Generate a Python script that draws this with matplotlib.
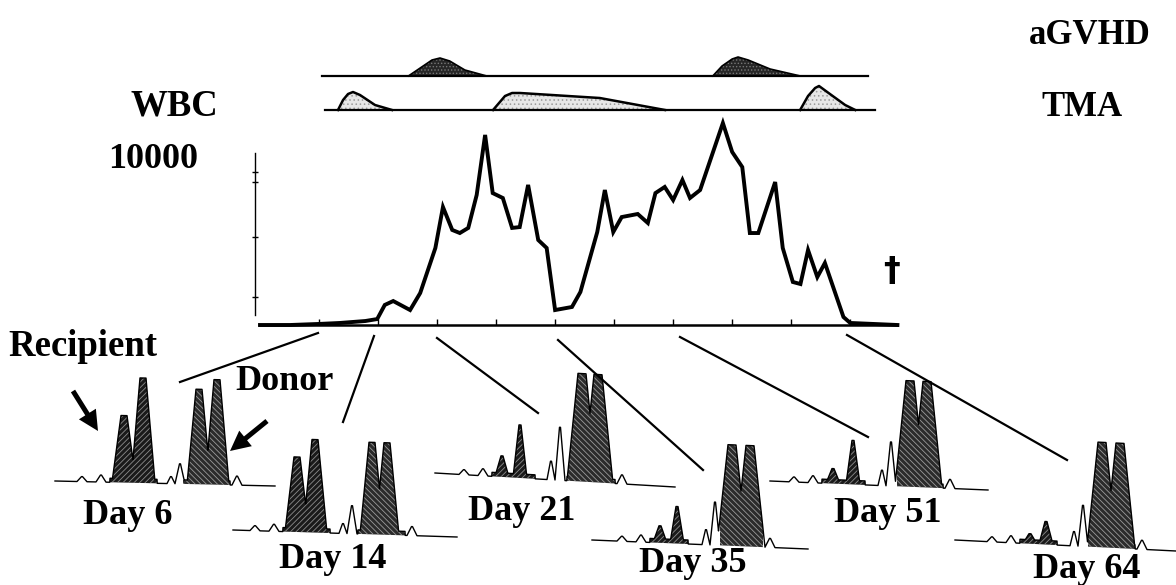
import numpy as np
import matplotlib
matplotlib.use('Agg')
import matplotlib.pyplot as plt
from matplotlib.patches import FancyArrow

plt.rcParams['font.family'] = ['Liberation Serif', 'DejaVu Serif']
plt.rcParams['hatch.linewidth'] = 0.6

# ---------------- data ----------------
wbc_day = [0, 3.6, 6.9, 9.5, 12.5, 13.9, 14.8, 15.8, 17.8, 19.0, 20.8, 21.7, 22.8, 23.7,
           24.7, 25.7, 26.7, 27.6, 28.8, 29.9, 30.8, 31.8, 33.0, 34.0, 35.0, 37.0, 38.0,
           40.0, 40.9, 41.9, 42.9, 44.8, 46.0, 46.9, 48.0, 49.0, 50.1, 51.0, 52.2, 54.9,
           56.0, 57.2, 58.1, 59.1, 61.1, 62.0, 63.2, 64.1, 65.0, 66.1, 67.0, 69.2, 70.0, 75.6]
wbc_val = [0, 0, 60, 120, 235, 350, 1180, 1410, 880, 1880, 4530, 6940, 5590, 5410,
           5710, 7650, 11180, 7760, 7470, 5710, 5760, 8240, 5000, 4530, 880, 1060, 1940,
           5470, 7940, 5470, 6350, 6530, 6000, 7760, 8120, 7350, 8530, 7470, 7940, 11880,
           10180, 9290, 5410, 5410, 8410, 4530, 2530, 2410, 4410, 2820, 3650, 470, 120, 0]
x_ticks = [7, 14, 21, 28, 35, 42, 49, 56, 63, 70]
y_minor_ticks = [1650, 5180, 8410, 9000]

# clinical episodes (day, relative height)
agvhd_span = [7.35, 72.1]
agvhd1_day = [17.6, 19.0, 20.4, 21.35, 22.5, 24.3, 26.9]
agvhd1_h = [0, 8, 16, 18, 15, 6, 0]
agvhd2_day = [53.7, 54.8, 56.0, 56.7, 57.9, 60.5, 64.1]
agvhd2_h = [0, 10, 17, 19, 16, 7, 0]
tma_span = [7.7, 72.95]
tma1_day = [9.25, 9.85, 10.44, 11.03, 11.86, 13.64, 15.66]
tma1_h = [0, 10, 16, 18, 15, 5, 0]
tma2_day = [27.64, 29.06, 29.9, 30.84, 40.3, 48.04]
tma2_h = [0, 14, 17, 17, 12, 0]
tma3_day = [64.06, 65.0, 65.84, 66.3, 67.6, 69.4, 70.6]
tma3_h = [0, 14, 22, 24, 16, 5, 0]

# chimerism electropherograms
day_labels = ['Day 6', 'Day 14', 'Day 21', 'Day 35', 'Day 51', 'Day 64']
recipient_peaks = [[67, 105], [75, 93], [21, 53], [17, 37], [15, 44], [10, 23]]
donor_peaks = [[95, 105], [92, 92], [108, 108], [101, 101], [106, 106], [105, 105]]
stutter_peak = [20, 28, 53, 43, 44, 41]

# ---------------- layout ----------------
W, H = 1176, 585
fig = plt.figure(figsize=(W / 100, H / 100), dpi=100)
fig.patch.set_facecolor('white')

ax0 = fig.add_axes([0, 0, 1, 1])
ax0.set_xlim(0, W)
ax0.set_ylim(H, 0)
ax0.axis('off')

# WBC axes
ax = fig.add_axes([255 / W, 1 - 325 / H, 650 / W, 175 / H])
ax.set_xlim(-0.593, 76.5)
ax.set_ylim(0, 10294)
ax.patch.set_alpha(0)
ax.plot(wbc_day, wbc_val, color='black', lw=2.8, clip_on=False, solid_joinstyle='miter')
for s in ['top', 'right']:
    ax.spines[s].set_visible(False)
ax.spines['left'].set_bounds(590, 10100)
ax.spines['bottom'].set_bounds(0, 75.6)
ax.spines['left'].set_linewidth(1.0)
ax.spines['bottom'].set_linewidth(1.8)
ax.set_xticks(x_ticks)
ax.set_xticklabels([])
ax.set_yticks(y_minor_ticks)
ax.set_yticklabels([])
ax.tick_params(axis='x', direction='in', length=4, width=1)
ax.tick_params(axis='y', direction='inout', length=4, width=1)

# episode band axes
axb = fig.add_axes([255 / W, 1 - 115 / H, 650 / W, 65 / H], sharex=ax)
axb.set_ylim(0, 65)
axb.axis('off')
g0, t0 = 39, 5
axb.plot(agvhd_span, [g0, g0], color='black', lw=1.6)
axb.plot(tma_span, [t0, t0], color='black', lw=1.6)
for d, h in [(agvhd1_day, agvhd1_h), (agvhd2_day, agvhd2_h)]:
    hh = g0 + np.array(h)
    axb.fill_between(d, g0, hh, facecolor='#262626', edgecolor='#777777', hatch='.....', lw=0)
    axb.plot(d, hh, color='black', lw=1.2)
for d, h in [(tma1_day, tma1_h), (tma2_day, tma2_h), (tma3_day, tma3_h)]:
    hh = t0 + np.array(h)
    axb.fill_between(d, t0, hh, facecolor='#e6e6e6', edgecolor='#9a9a9a', hatch='....', lw=0)
    axb.plot(d, hh, color='black', lw=1.8)

# electropherogram layout (pixel positions)
traces = [
    dict(xs=55, xe=275, yl=481, yr=486, rc=(124, 143), rs=(110, 157), bx=180, dc=(199, 217), ds=(183, 230), tall=True),
    dict(xs=233, xe=457, yl=530, yr=537, rc=(297, 315), rs=(283, 330), bx=352, dc=(372, 387), ds=(358, 405), tall=True),
    dict(xs=435, xe=675, yl=473, yr=487, rc=(502, 520), rs=(492, 535), bx=560, dc=(582, 598), ds=(567, 615), tall=False),
    dict(xs=592, xe=808, yl=540, yr=549, rc=(660, 677), rs=(650, 688), bx=715, dc=(732, 750), ds=(720, 763), tall=False),
    dict(xs=770, xe=988, yl=481, yr=490, rc=(833, 853), rs=(822, 865), bx=891, dc=(910, 927), ds=(897, 943), tall=False),
    dict(xs=955, xe=1176, yl=540, yr=551, rc=(1030, 1046), rs=(1020, 1057), bx=1083, dc=(1102, 1120), ds=(1088, 1135), tall=False),
]
label_pos = [(128, 515), (333, 560), (522, 512), (693, 563), (888, 513), (1087, 570)]
connectors = [((318, 333), (180, 382)), ((374, 336), (343, 422)), ((437, 338), (538, 413)),
              ((558, 340), (703, 470)), ((680, 337), (868, 437)), ((847, 335), (1067, 460))]


def trap(x, c, h, wb, wt):
    return h * np.clip((wb - np.abs(x - c)) / (wb - wt), 0, 1)


for i, t in enumerate(traces):
    x = np.arange(t['xs'], t['xe'] + 0.25, 0.25)
    base = t['yl'] + (t['yr'] - t['yl']) * (x - t['xs']) / (t['xe'] - t['xs'])
    rh = recipient_peaks[i]
    dh = donor_peaks[i]
    if t['tall']:
        rwb, rwt, dwb, dwt = 12, 3, 12, 3
    else:
        rwb, rwt, dwb, dwt = 7, 1, 15, 4
    rec = np.maximum(trap(x, t['rc'][0], rh[0], rwb, rwt), trap(x, t['rc'][1], rh[1], rwb, rwt))
    don = np.maximum(trap(x, t['dc'][0], dh[0], dwb, dwt), trap(x, t['dc'][1], dh[1], dwb, dwt))
    rmask = (x >= t['rs'][0]) & (x <= t['rs'][1])
    dmask = (x >= t['ds'][0]) & (x <= t['ds'][1])
    rec = np.where(rmask, np.maximum(rec, 4), rec)
    don = np.where(dmask, np.maximum(don, 4), don)
    sb = stutter_peak[i]
    small = np.maximum.reduce([
        trap(x, t['bx'], sb, 5, 0.5),
        trap(x, t['bx'] - 9, sb * 0.35, 4, 0.5),
        trap(x, t['ds'][1] + 7, 9, 5, 0.5),
        trap(x, t['rs'][0] - 9, 7, 5, 0.5),
        trap(x, t['rs'][0] - 28, 5, 5, 0.5),
    ])
    prof = np.maximum.reduce([rec, don, small])
    y = base - prof
    ax0.fill_between(x, base, base - rec, where=rmask, facecolor='#1a1a1a',
                     edgecolor='#8c8c8c', hatch='//////', lw=0)
    ax0.fill_between(x, base, base - don, where=dmask, facecolor='#2b2b2b',
                     edgecolor='#9a9a9a', hatch='\\\\\\\\\\\\', lw=0)
    ax0.plot(x, y, color='black', lw=1.0)
    ax0.text(label_pos[i][0], label_pos[i][1], day_labels[i], fontsize=26,
             fontweight='bold', ha='center', va='center')

for (p0, p1) in connectors:
    ax0.plot([p0[0], p1[0]], [p0[1], p1[1]], color='black', lw=1.6)

# labels
ax0.text(1090, 35, 'aGVHD', fontsize=25, fontweight='bold', ha='center', va='center')
ax0.text(1082, 107, 'TMA', fontsize=25, fontweight='bold', ha='center', va='center')
ax0.text(174, 106, 'WBC', fontsize=26.5, fontweight='bold', ha='center', va='center')
ax0.text(153, 160, '10000', fontsize=26, fontweight='bold', ha='center', va='center')
ax0.text(83, 347, 'Recipient', fontsize=26.5, fontweight='bold', ha='center', va='center')
ax0.text(285, 382, 'Donor', fontsize=26, fontweight='bold', ha='center', va='center')
ax0.text(892, 272, '\u2020', fontsize=24, fontweight='bold', ha='center', va='center',
         family=['DejaVu Sans'])

# pointer arrows (tail -> tip, pixel layout)
for (tx, ty), (hx, hy) in [((73, 391), (98, 431)), ((267, 421), (230, 451))]:
    ax0.add_patch(FancyArrow(tx, ty, hx - tx, hy - ty, width=5, head_width=20,
                             head_length=20, length_includes_head=True,
                             color='black', lw=0))

fig.savefig('out.png', dpi=100, facecolor='white')
